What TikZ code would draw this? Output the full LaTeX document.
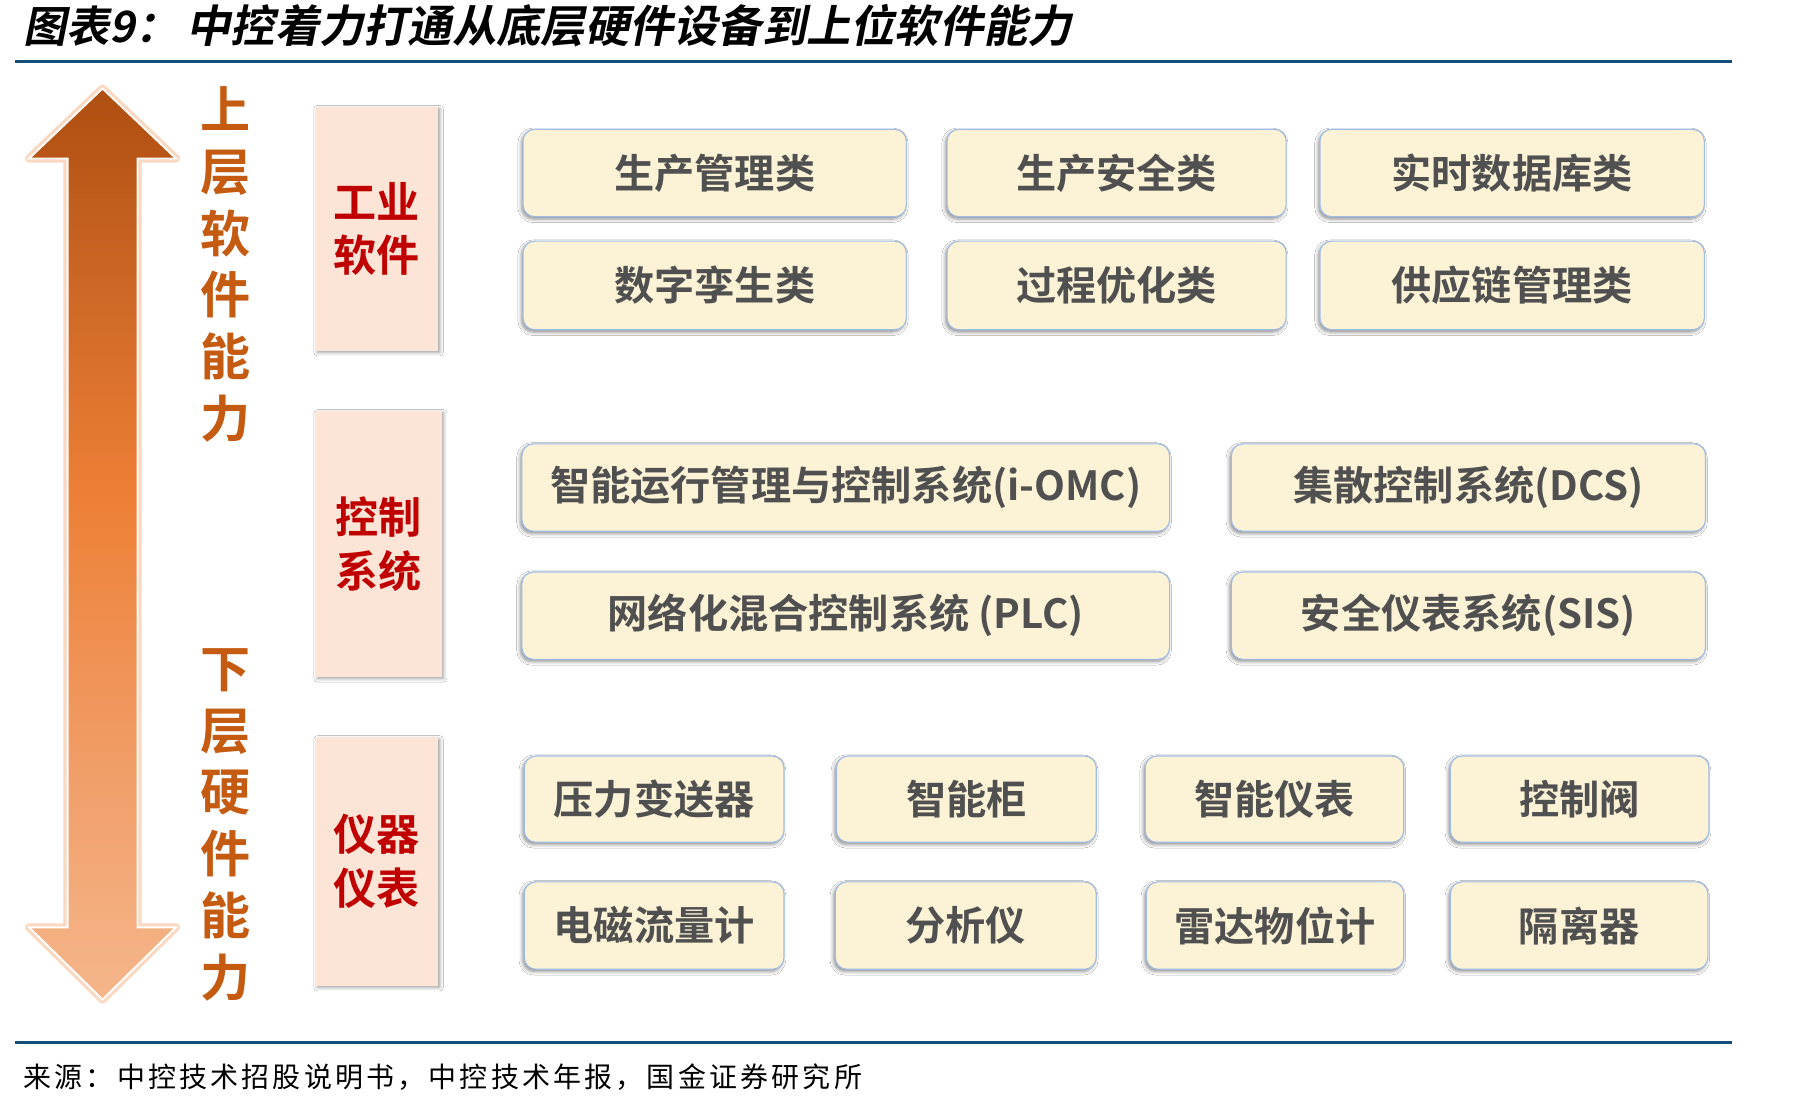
\documentclass[tikz,border=0pt]{standalone}
\usepackage{fontspec}
\setmainfont{Noto Sans CJK SC}[BoldFont={Noto Sans CJK SC Bold}]
\newfontfamily\titlefont{Noto Sans CJK SC Bold}[FakeSlant=0.2]
\newfontfamily\srcfont{Noto Sans CJK SC}[LetterSpace=11.5]
\usetikzlibrary{shadows,shadows.blur}
\definecolor{itemfill}{RGB}{252,242,214}
\definecolor{itemborder}{RGB}{160,188,226}
\definecolor{itemtext}{RGB}{80,80,80}
\definecolor{catfill}{RGB}{252,228,214}
\definecolor{cattext}{RGB}{192,0,0}
\definecolor{vtextcol}{RGB}{197,90,17}
\definecolor{rulecol}{RGB}{22,77,122}
\definecolor{arrglow}{RGB}{248,200,168}
\definecolor{shA}{RGB}{245,182,138}
\definecolor{shB}{RGB}{241,158,105}
\definecolor{shC}{RGB}{237,128,54}
\definecolor{shD}{RGB}{203,101,36}
\definecolor{shE}{RGB}{174,78,16}
\pgfdeclareverticalshading{arrowshade}{100bp}{%
  color(0bp)=(shA);
  color(25bp)=(shA);
  color(37.5bp)=(shB);
  color(52.5bp)=(shC);
  color(65bp)=(shD);
  color(75bp)=(shE);
  color(100bp)=(shE)}
\tikzset{
  item/.style={draw=itemborder, line width=1pt, fill=itemfill, rounded corners=10pt,
    inner sep=0pt, outer sep=0pt, text=itemtext, font=\fontsize{34.5}{40}\selectfont\bfseries,
    blur shadow={shadow xshift=-1.5pt, shadow yshift=-2pt, shadow blur radius=3pt, shadow opacity=45}},
  cat/.style={fill=catfill, inner sep=0pt, outer sep=0pt, text=cattext, align=center,
    font=\fontsize{37}{46}\selectfont\bfseries,
    blur shadow={shadow xshift=1.5pt, shadow yshift=-1.5pt, shadow blur radius=3pt, shadow opacity=40}},
  vtext/.style={text=vtextcol, align=center, inner sep=0pt, font=\fontsize{43}{53}\selectfont\bfseries},
  rulestyle/.style={draw=rulecol, line width=3pt}
}
\newcommand{\itemnode}[6]{\node[item, minimum width={(#4-#2)*1pt}, minimum height={(#5-#3)*1pt}] (#1) at ({(#2+#4)/2},{(#3+#5)/2}) {#6};}
\newcommand{\catnode}[6]{\node[cat, minimum width={(#4-#2)*1pt}, minimum height={(#5-#3)*1pt}] (#1) at ({(#2+#4)/2},{(#3+#5)/2}) {#6};}
\begin{document}
\begin{tikzpicture}[x=1pt,y=-1pt]
\useasboundingbox (0,0) rectangle (1559.7,947.6);
\fill[white] (0,0) rectangle (1559.7,947.6);
% title
\node[anchor=west, inner sep=0pt, font=\titlefont\fontsize{37}{40}\selectfont] (t1) at (20,22) {图表9：};
\node[anchor=west, inner sep=0pt, font=\titlefont\fontsize{38}{40}\selectfont] (t2) at (160,22) {中控着力打通从底层硬件设备到上位软件能力};
\coordinate (r1a) at (13,53); \coordinate (r1b) at (1487,53);
\draw[rulestyle] (r1a) -- (r1b);
\coordinate (r2a) at (13,895); \coordinate (r2b) at (1487,895);
\draw[rulestyle] (r2a) -- (r2b);
\node[anchor=west, inner sep=0pt, font=\srcfont\fontsize{24}{30}\selectfont] (src) at (20,925) {来源：中控技术招股说明书，中控技术年报，国金证券研究所};
% arrow
\path[draw=arrglow, line width=7pt, line join=round, opacity=0.7]
  (88,76) -- (151,136) -- (118,136) -- (118,796) -- (151,796) -- (88,858) -- (25,796) -- (58,796) -- (58,136) -- (25,136) -- cycle;
\path[draw=white, line width=1.6pt, line join=miter, shading=arrowshade]
  (88,76) -- (151,136) -- (118,136) -- (118,796) -- (151,796) -- (88,858) -- (25,796) -- (58,796) -- (58,136) -- (25,136) -- cycle;
% vertical texts
\node[vtext] (up) at (194,227) {上\\层\\软\\件\\能\\力};
\node[vtext] (down) at (194,708) {下\\层\\硬\\件\\能\\力};
% category boxes
\catnode{c1}{271}{92}{376}{301}{工业\\软件}
\catnode{c2}{271}{353}{379}{581}{控制\\系统}
\catnode{c3}{271}{633}{376}{846}{仪器\\仪表}
% items
\itemnode{a1}{449}{111}{778}{186}{生产管理类}
\itemnode{a2}{813}{111}{1104}{186}{生产安全类}
\itemnode{a3}{1133}{111}{1463}{186}{实时数据库类}
\itemnode{b1}{449}{207}{778}{283}{数字孪生类}
\itemnode{b2}{813}{207}{1104}{283}{过程优化类}
\itemnode{b3}{1133}{207}{1463}{283}{供应链管理类}
\itemnode{d1}{448}{381}{1004}{456}{智能运行管理与控制系统(i-OMC)}
\itemnode{d2}{1057}{381}{1464}{456}{集散控制系统(DCS)}
\itemnode{e1}{448}{491}{1004}{566}{网络化混合控制系统 (PLC)}
\itemnode{e2}{1057}{491}{1464}{566}{安全仪表系统(SIS)}
\itemnode{f1}{450}{649}{673}{723}{压力变送器}
\itemnode{f2}{718}{649}{941}{723}{智能柜}
\itemnode{f3}{983}{649}{1205}{723}{智能仪表}
\itemnode{f4}{1245}{649}{1467}{723}{控制阀}
\itemnode{g1}{450}{757}{673}{832}{电磁流量计}
\itemnode{g2}{717}{757}{941}{832}{分析仪}
\itemnode{g3}{984}{757}{1205}{832}{雷达物位计}
\itemnode{g4}{1245}{757}{1466}{832}{隔离器}
\end{tikzpicture}
\end{document}
